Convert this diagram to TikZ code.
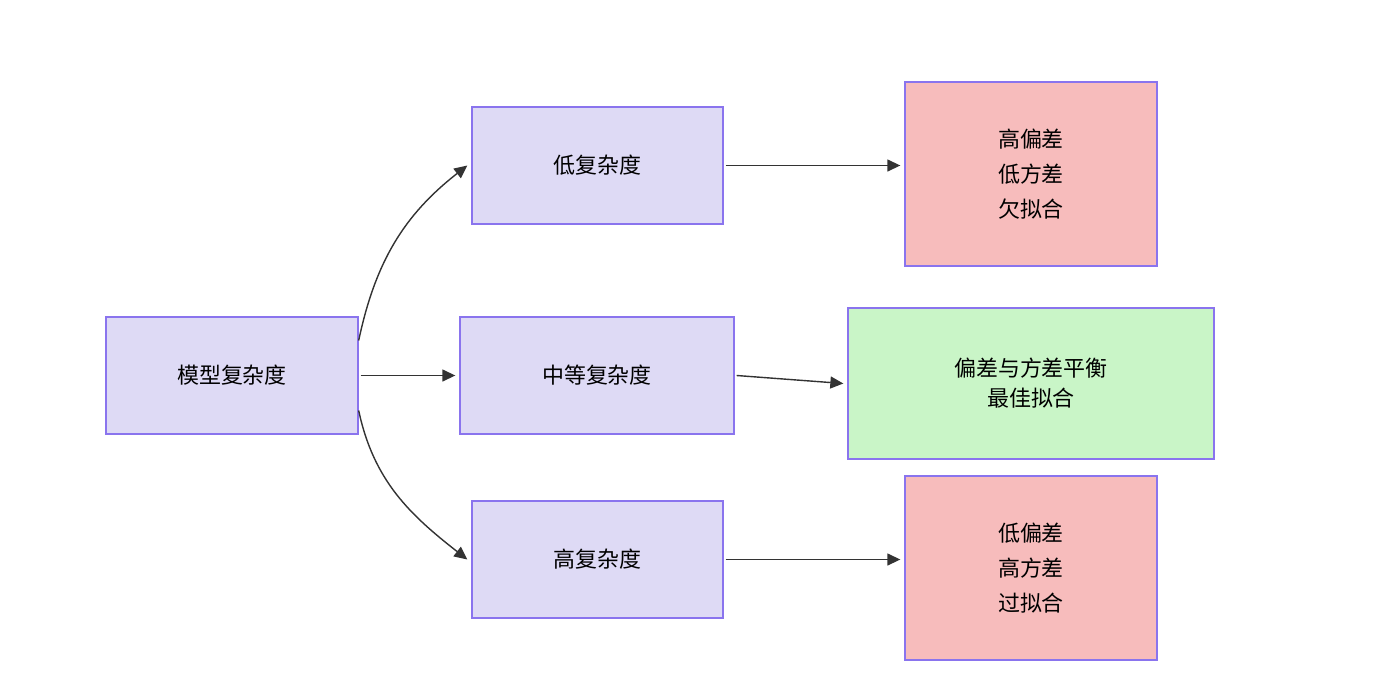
\documentclass[tikz,border=0pt]{standalone}
\usepackage{fontspec}
\newfontfamily\cjk{Noto Sans CJK SC}
\usetikzlibrary{arrows.meta,positioning}
\definecolor{boxfill}{HTML}{DEDAF5}
\definecolor{boxline}{HTML}{8A74EE}
\definecolor{badfill}{HTML}{F7BCBC}
\definecolor{goodfill}{HTML}{C9F5C7}
\begin{document}
\begin{tikzpicture}[
    x=0.02cm, y=-0.02cm,
    box/.style={rectangle, draw=boxline, fill=boxfill, line width=0.8pt, minimum height=2.34cm, align=center, font=\cjk\fontsize{12.5}{20}\selectfont},
    bad/.style={box, fill=badfill, minimum width=5.04cm, minimum height=3.68cm},
    good/.style={box, fill=goodfill, minimum width=7.32cm, minimum height=3.02cm, font=\cjk\fontsize{12.5}{17}\selectfont},
    arr/.style={-{Triangle[length=2.6mm,width=2.4mm]}, line width=0.8pt, draw=black!80}
]
\useasboundingbox (0,0) rectangle (1400,700);
\node[box, minimum width=5.04cm] (model) at (232,375.5) {模型复杂度};
\node[box, minimum width=5.02cm] (low) at (597.5,165.5) {低复杂度};
\node[box, minimum width=5.48cm] (mid) at (597,375.5) {中等复杂度};
\node[box, minimum width=5.02cm] (high) at (597.5,559.5) {高复杂度};
\node[bad] (r-under) at (1031,174) {高偏差\\低方差\\欠拟合};
\node[good] (r-best) at (1031,383.5) {偏差与方差平衡\\最佳拟合};
\node[bad] (r-over) at (1031,568) {低偏差\\高方差\\过拟合};
\draw[arr] ([yshift=0.7cm]model.east) to[out=78,in=218] ([xshift=-0.08cm]low.west);
\draw[arr] ([xshift=0.04cm]model.east) -- ([xshift=-0.08cm]mid.west);
\draw[arr] ([yshift=-0.7cm]model.east) to[out=-78,in=142] ([xshift=-0.08cm]high.west);
\draw[arr] ([xshift=0.04cm]low.east) -- ([xshift=-0.08cm]low.east -| r-under.west);
\draw[arr] ([xshift=0.04cm]mid.east) -- ([xshift=-0.08cm]r-best.west);
\draw[arr] ([xshift=0.04cm]high.east) -- ([xshift=-0.08cm]high.east -| r-over.west);
\end{tikzpicture}
\end{document}
